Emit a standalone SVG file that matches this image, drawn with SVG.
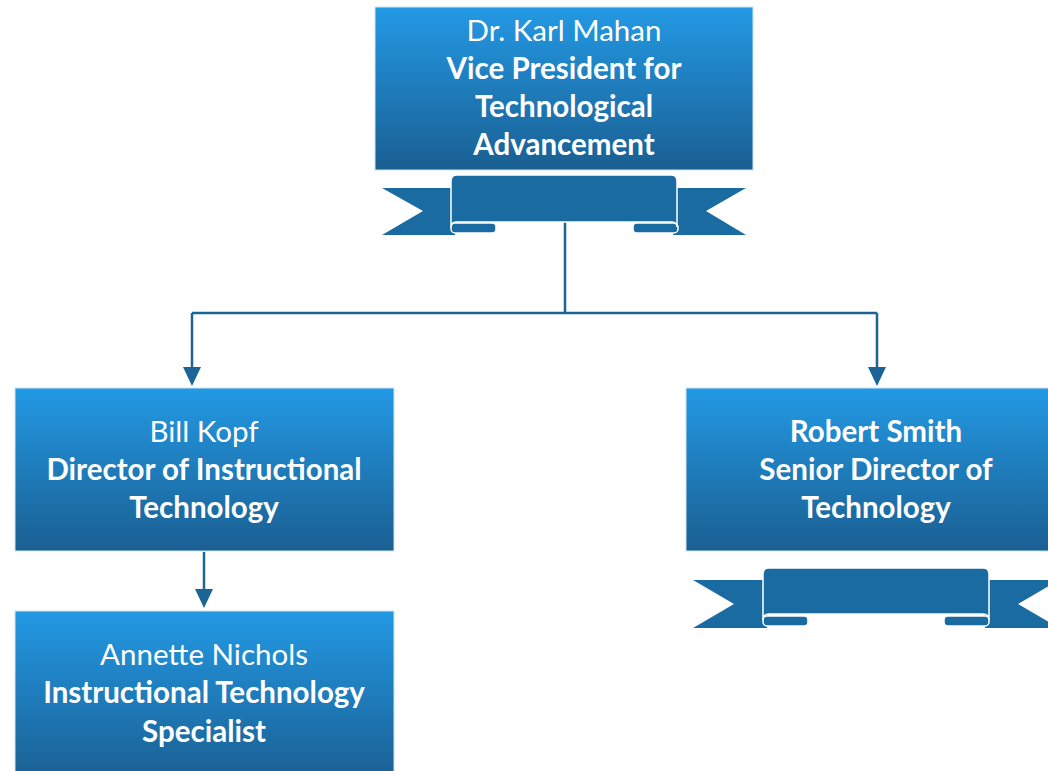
<svg xmlns="http://www.w3.org/2000/svg" width="1048" height="771" viewBox="0 0 1048 771">
<defs>
<linearGradient id="g" x1="0" y1="0" x2="0" y2="1">
<stop offset="0" stop-color="#2399e4"/>
<stop offset="1" stop-color="#1a5f92"/>
</linearGradient>
</defs>
<style>
.box{fill:url(#g);stroke:#cfe3f3;stroke-width:1}
.t{font-family:Lato,"Open Sans",sans-serif;font-size:29.5px;fill:#fff;text-anchor:middle}
.b{font-weight:bold}
.rb{fill:#196ba1}
.rbs{fill:#196ba1;stroke:#fff;stroke-width:1.5}
.c{fill:none;stroke:#1a6496;stroke-width:2.5}
.ah{fill:#1a6496}
</style>
<g id="connectors">
<path class="c" d="M565,222 L565,313 M192,313 L877,313"/>
<path class="c" d="M192,313 L192,370"/>
<polygon class="ah" points="183,367 201,367 192,386"/>
<path class="c" d="M877,313 L877,370"/>
<polygon class="ah" points="868,367 886,367 877,386"/>
<path class="c" d="M204,552 L204,592"/>
<polygon class="ah" points="195,589 213,589 204,608"/>
</g>
<g id="ribbon1">
<polygon class="rb" points="382,188 455,188 455,235 382,235 423,211"/>
<polygon class="rb" points="746,188 673,188 673,235 746,235 706,211"/>
<rect class="rbs" x="451" y="223" width="45" height="10" rx="4"/>
<rect class="rbs" x="633" y="223" width="45" height="10" rx="4"/>
<path class="rbs" d="M451,227 L451,181 Q451,175 457,175 L671,175 Q677,175 677,181 L677,227 Q677,222 671,222 L457,222 Q451,222 451,227 Z"/>
</g>
<g id="ribbon2">
<polygon class="rb" points="693,580 767,580 767,628 693,628 734,604"/>
<polygon class="rb" points="1059,580 985,580 985,628 1059,628 1018,604"/>
<rect class="rbs" x="763" y="616" width="45" height="10" rx="4"/>
<rect class="rbs" x="944" y="616" width="45" height="10" rx="4"/>
<path class="rbs" d="M763,620 L763,574 Q763,568 769,568 L983,568 Q989,568 989,574 L989,620 Q989,614 983,614 L769,614 Q763,614 763,620 Z"/>
</g>
<g id="n1">
<rect class="box" x="375" y="7" width="378" height="163"/>
<text class="t" x="564" y="41">Dr. Karl Mahan</text>
<text class="t b" x="564" y="79">Vice President for</text>
<text class="t b" x="564" y="117">Technological</text>
<text class="t b" x="564" y="155">Advancement</text>
</g>
<g id="n2">
<rect class="box" x="15" y="388" width="379" height="163"/>
<text class="t" x="204" y="442">Bill Kopf</text>
<text class="t b" x="204" y="480">Director of Instructional</text>
<text class="t b" x="204" y="518">Technology</text>
</g>
<g id="n3">
<rect class="box" x="686" y="388" width="380" height="163"/>
<text class="t b" x="876" y="442">Robert Smith</text>
<text class="t b" x="876" y="480">Senior Director of</text>
<text class="t b" x="876" y="518">Technology</text>
</g>
<g id="n4">
<rect class="box" x="15" y="611" width="379" height="170"/>
<text class="t" x="204" y="665">Annette Nichols</text>
<text class="t b" x="204" y="703">Instructional Technology</text>
<text class="t b" x="204" y="742">Specialist</text>
</g>
</svg>
